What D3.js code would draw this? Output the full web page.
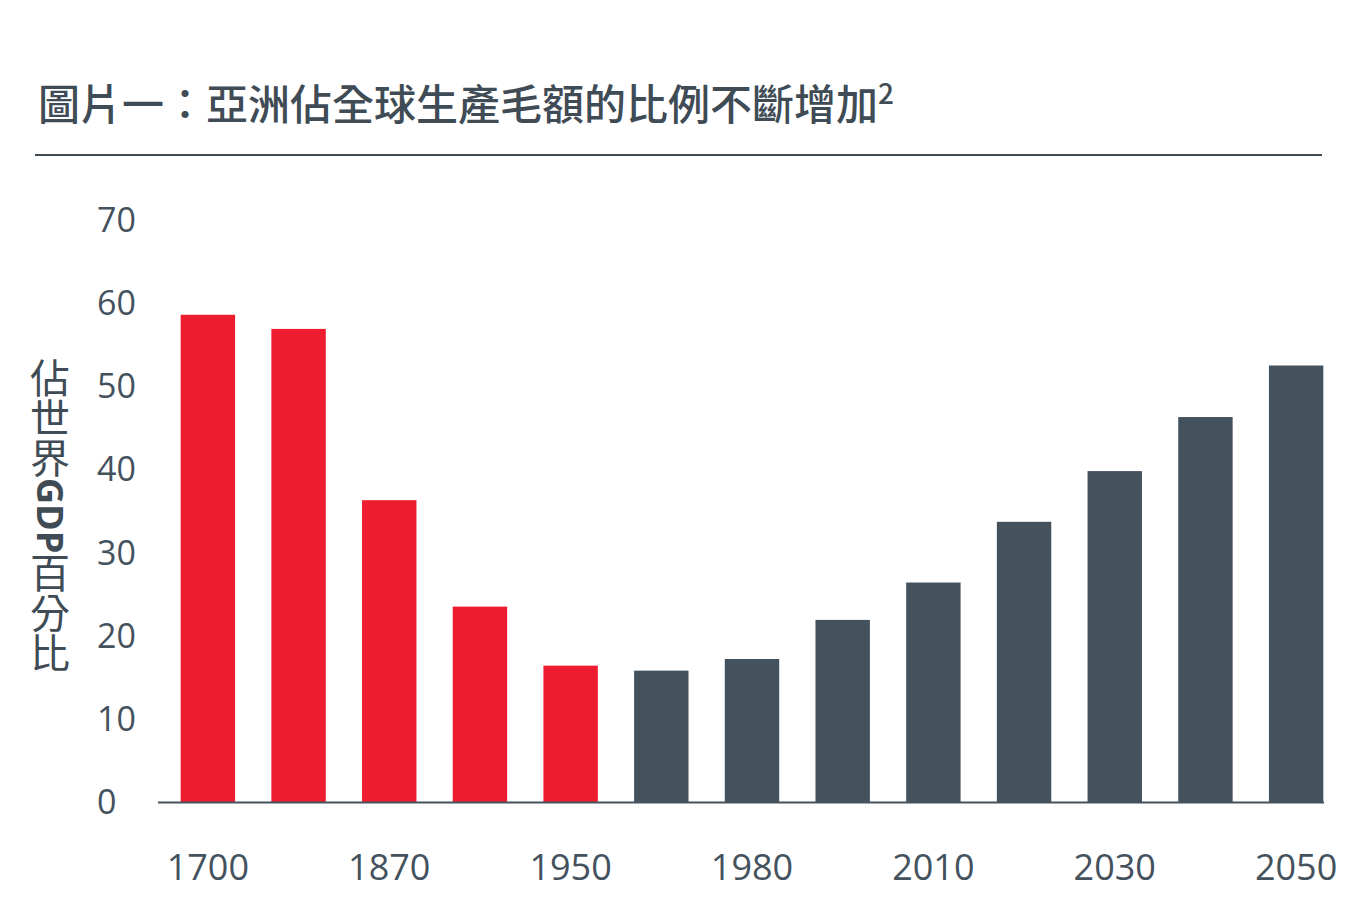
<!DOCTYPE html><html><head><meta charset="utf-8">
<script src="https://cdn.jsdelivr.net/npm/d3@7"></script>
<style>body{margin:0;background:#fff}</style></head><body>
<svg id="c" width="1356" height="924"></svg>
<script>
const categories=["1700","1820","1870","1913","1950","1960","1980","1990","2010","2020","2030","2040","2050"];
const tickLabels=["1700","","1870","","1950","","1980","","2010","","2030","","2050"];
const values=[58.6,56.9,36.3,23.5,16.4,15.8,17.2,21.9,26.4,33.7,39.8,46.3,52.5];
const historical=[true,true,true,true,true,false,false,false,false,false,false,false,false];
const yTicks=[0,10,20,30,40,50,60,70];
const svg=d3.select("#c");
const font="'Open Sans','Noto Sans CJK TC',sans-serif";
const x=d3.scaleBand().domain(categories).range([158,1346]).paddingInner(0.4).paddingOuter(0.25);
const y=d3.scaleLinear().domain([0,70]).range([802,220]);
svg.append("text").attr("x",38).attr("y",120).attr("font-family","'Noto Sans CJK TC',sans-serif").attr("font-size",42).attr("font-weight",500).attr("fill","#3f4b55").text("圖片一：亞洲佔全球生產毛額的比例不斷增加").append("tspan").attr("font-size",28).attr("dy",-16).text("2");
svg.append("line").attr("x1",35).attr("x2",1322).attr("y1",155).attr("y2",155).attr("stroke","#3f4b55").attr("stroke-width",2);
svg.selectAll(".b").data(values).join("rect").attr("x",(d,i)=>x(categories[i])).attr("width",x.bandwidth()).attr("y",d=>y(d)).attr("height",d=>y(0)-y(d)).attr("fill",(d,i)=>historical[i]?"#ed1c2e":"#44525e");
svg.append("line").attr("x1",158).attr("x2",1324).attr("y1",802.5).attr("y2",802.5).attr("stroke","#44525e").attr("stroke-width",2);
svg.selectAll(".yt").data(yTicks).join("text").attr("x",97).attr("y",d=>y(d)+12).attr("font-family",font).attr("font-size",34).attr("fill","#44525e").text(d=>d);
svg.selectAll(".xt").data(categories).join("text").attr("x",d=>x(d)+x.bandwidth()/2).attr("y",880).attr("text-anchor","middle").attr("font-family",font).attr("font-size",36).attr("fill","#44525e").text((d,i)=>tickLabels[i]);
const t=svg.append("text").attr("x",50).attr("y",358).attr("font-family","'Noto Sans CJK TC',sans-serif").attr("font-size",40).attr("fill","#3f4b55").style("writing-mode","vertical-rl").style("text-orientation","mixed");
t.append("tspan").text("佔世界");
t.append("tspan").attr("font-weight",700).attr("font-family","'Open Sans',sans-serif").attr("font-size",36).text("GDP");
t.append("tspan").text("百分比");
</script></body></html>
